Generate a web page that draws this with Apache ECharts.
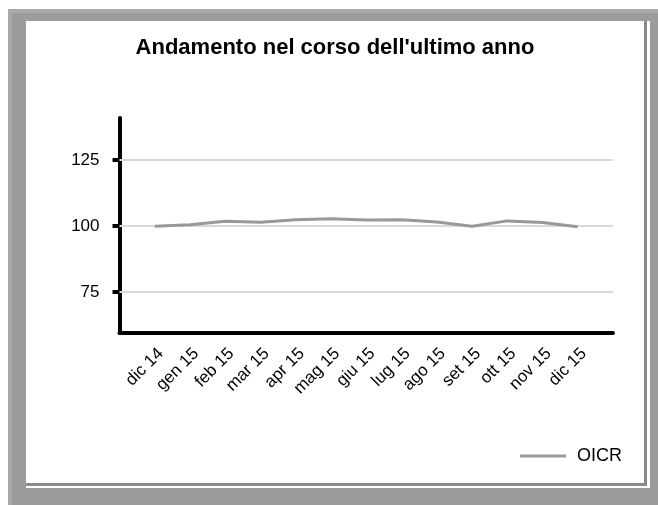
<!DOCTYPE html>
<html>
<head>
<meta charset="utf-8">
<script src="https://cdn.jsdelivr.net/npm/echarts@6/dist/echarts.min.js"></script>
<style>
  html, body { margin: 0; padding: 0; background: #ffffff; width: 658px; height: 505px; overflow: hidden; }
  #frameOuter { position: absolute; left: 8px; top: 9px; width: 700px; height: 600px; background: #a9a9a9; }
  #frameInner { position: absolute; left: 12px; top: 13px; width: 700px; height: 600px; background: #9c9c9c; }
  #panel { position: absolute; left: 26px; top: 21px; width: 624px; height: 467px; background: #ffffff; }
  #bevel { position: absolute; left: 0; top: 0; width: 618px; height: 462px; border-right: 3px solid #8a8a8a; border-bottom: 3px solid #8a8a8a; background: #ffffff; }
  #chart { position: absolute; left: 26px; top: 21px; width: 618px; height: 462px; }
</style>
</head>
<body>
<div id="frameOuter"></div>
<div id="frameInner"></div>
<div id="panel"><div id="bevel"></div></div>
<div id="chart"></div>
<script>
var categories = ['dic 14', 'gen 15', 'feb 15', 'mar 15', 'apr 15', 'mag 15', 'giu 15', 'lug 15', 'ago 15', 'set 15', 'ott 15', 'nov 15', 'dic 15'];
var oicrValues = [100.0, 100.5, 101.9, 101.5, 102.4, 102.8, 102.3, 102.4, 101.6, 100.0, 102.0, 101.4, 99.8];
var yTickValues = [75, 100, 125];
var seriesName = 'OICR';
var titleText = "Andamento nel corso dell'ultimo anno";

var chart = echarts.init(document.getElementById('chart'), null, { renderer: 'canvas' });
var points = oicrValues.map(function (v, i) { return [i, v]; });
var font = 'Arial, "Liberation Sans", Helvetica, sans-serif';

chart.setOption({
  animation: false,
  backgroundColor: 'transparent',
  title: {
    text: titleText,
    left: 'center',
    top: 11,
    padding: [5, 0, 5, 13],
    textStyle: { fontFamily: font, fontSize: 22, fontWeight: 'bold', color: '#000000' }
  },
  legend: {
    data: [seriesName],
    left: 489,
    top: 421,
    icon: 'rect',
    itemWidth: 46,
    itemHeight: 3,
    textStyle: { fontFamily: font, fontSize: 18, color: '#000000', padding: [0, 0, 0, 6] }
  },
  grid: { left: 93.5, right: 31, top: 97, bottom: 150, containLabel: false },
  xAxis: {
    type: 'value',
    min: -1,
    max: 13,
    interval: 1,
    axisLine: { show: true, onZero: false, lineStyle: { color: '#000000', width: 4 } },
    axisTick: { show: false },
    splitLine: { show: false },
    axisLabel: {
      rotate: 45,
      margin: 12,
      verticalAlign: 'top',
      fontFamily: font,
      fontSize: 17,
      color: '#000000',
      formatter: function (v) { return categories[v] !== undefined ? categories[v] : ''; }
    }
  },
  yAxis: {
    type: 'value',
    min: 59.5,
    max: 141,
    axisLine: { show: true, onZero: false, lineStyle: { color: '#000000', width: 4 } },
    axisTick: { show: true, length: 7, lineStyle: { color: '#000000', width: 4 }, customValues: yTickValues },
    splitLine: { show: false },
    axisLabel: { margin: 20, fontFamily: font, fontSize: 17, color: '#000000', customValues: yTickValues }
  },
  series: [{
    name: seriesName,
    type: 'line',
    data: points,
    z: 3,
    symbol: 'none',
    lineStyle: { color: '#999999', width: 3 },
    itemStyle: { color: '#999999' },
    markLine: {
      z: 1,
      silent: true,
      symbol: ['none', 'none'],
      label: { show: false },
      lineStyle: { color: '#d9d9d9', width: 2, type: 'solid' },
      data: yTickValues.map(function (v) { return { yAxis: v }; })
    }
  }]
});
</script>
</body>
</html>
